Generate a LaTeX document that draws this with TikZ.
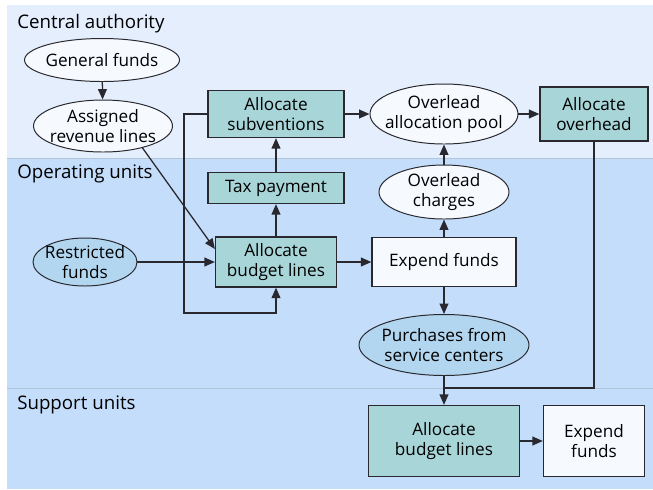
\documentclass[tikz,border=0pt]{standalone}
\usepackage{fontspec}
\setmainfont{Open Sans}
\usetikzlibrary{arrows.meta,shapes.geometric}
\definecolor{central}{RGB}{228,238,253}
\definecolor{operating}{RGB}{196,221,250}
\definecolor{bandline}{RGB}{176,196,218}
\definecolor{budget}{RGB}{168,213,216}
\definecolor{fundwhite}{RGB}{246,250,255}
\definecolor{fundblue}{RGB}{178,214,240}
\definecolor{edge}{RGB}{40,40,46}
\tikzset{
  mbox/.style   = {draw=edge, line width=0.9pt, fill=budget, align=center,
                   font=\fontsize{12.2}{14.2}\selectfont, inner sep=2pt},
  mplain/.style = {mbox, fill=fundwhite},
  % ellipses: negative x sep so the minimum size wins over the text
  mfund/.style  = {ellipse, draw=edge, line width=0.7pt, fill=fundwhite, align=center,
                   font=\fontsize{12.2}{14.2}\selectfont, inner xsep=-7pt, inner ysep=0pt},
  mfundb/.style = {mfund, fill=fundblue},
  band/.style   = {font=\fontsize{13.3}{16}\selectfont, anchor=west, inner sep=0pt},
  flow/.style   = {draw=edge, line width=0.9pt, -{Triangle[length=2.6mm,width=2.2mm]}},
  link/.style   = {draw=edge, line width=0.9pt},
}

\begin{document}
\begin{tikzpicture}
    \useasboundingbox (0,0) rectangle (16.325,-12.225);

    % swim lanes
    \fill[central]   (0.175,-0.125) rectangle (16.325,-3.95);
    \fill[operating] (0.175,-3.95) rectangle (16.325,-12.225);
    \draw[bandline] (0.175,-3.95) -- (16.325,-3.95);
    \draw[bandline] (0.175,-9.7) -- (16.325,-9.7);

    \node[band] (tc) at (0.425,-0.6)   {Central authority};
    \node[band] (to) at (0.425,-4.35)  {Operating units};
    \node[band] (ts) at (0.425,-10.12) {Support units};

    \node[mfund,  minimum width=3.875cm, minimum height=1.075cm] (gf)  at (2.55,-1.5)  {General funds};
    \node[mfund,  minimum width=3.475cm, minimum height=1.3cm]   (arl) at (2.575,-3.15) {Assigned\\revenue lines};
    \node[mfundb, minimum width=2.6cm,   minimum height=1.2cm]   (rf)  at (2.125,-6.55) {Restricted\\funds};

    \node[mbox, minimum width=3.4cm,   minimum height=1.175cm] (asub) at (6.9,-2.85) {Allocate\\subventions};
    \node[mbox, minimum width=3.4cm,   minimum height=0.775cm] (tax)  at (6.9,-4.7)  {Tax payment};
    \node[mbox, minimum width=3.025cm, minimum height=1.25cm]  (abl)  at (6.9,-6.55) {Allocate\\budget lines};

    \node[mfund,  minimum width=3.7cm,  minimum height=1.5cm]   (pool) at (11.1,-2.85)  {Overlead\\allocation pool};
    \node[mbox,   minimum width=2.7cm,  minimum height=1.35cm]  (aoh)  at (14.85,-2.85) {Allocate\\overhead};
    \node[mfund,  minimum width=3.25cm, minimum height=1.35cm]  (chg)  at (11.1,-4.8)   {Overlead\\charges};
    \node[mplain, minimum width=3.6cm,  minimum height=1.225cm] (ef)   at (11.1,-6.55)  {Expend funds};
    \node[mfundb, minimum width=4.25cm, minimum height=1.525cm] (pur)  at (11.1,-8.625) {Purchases from\\service centers};

    \node[mbox,   minimum width=3.775cm, minimum height=1.775cm] (sabl) at (11.1,-11.025)  {Allocate\\budget lines};
    \node[mplain, minimum width=2.525cm, minimum height=1.775cm] (sef)  at (14.85,-11.025) {Expend\\funds};

    \coordinate (loop) at (4.6,-7.825);
    \coordinate (join) at (11.1,-9.7);

    \draw[flow] (gf) -- (arl);
    \draw[flow] (arl.-29) -- (abl.168);
    \draw[flow] (rf) -- (abl);
    \draw[flow] (abl) -- (tax);
    \draw[flow] (tax) -- (asub);
    \draw[flow] (asub.west) -| (loop) -| (abl.south);
    \draw[flow] (asub) -- (pool);
    \draw[flow] (pool) -- (aoh);
    \draw[flow] (abl) -- (ef);
    \draw[flow] (ef) -- (chg);
    \draw[flow] (chg) -- (pool);
    \draw[flow] (ef) -- (pur);
    \draw[flow] (pur) -- (sabl);
    \draw[link] (aoh.south) |- (join);
    \draw[flow] (sabl) -- (sef);
  \end{tikzpicture}
\end{document}
